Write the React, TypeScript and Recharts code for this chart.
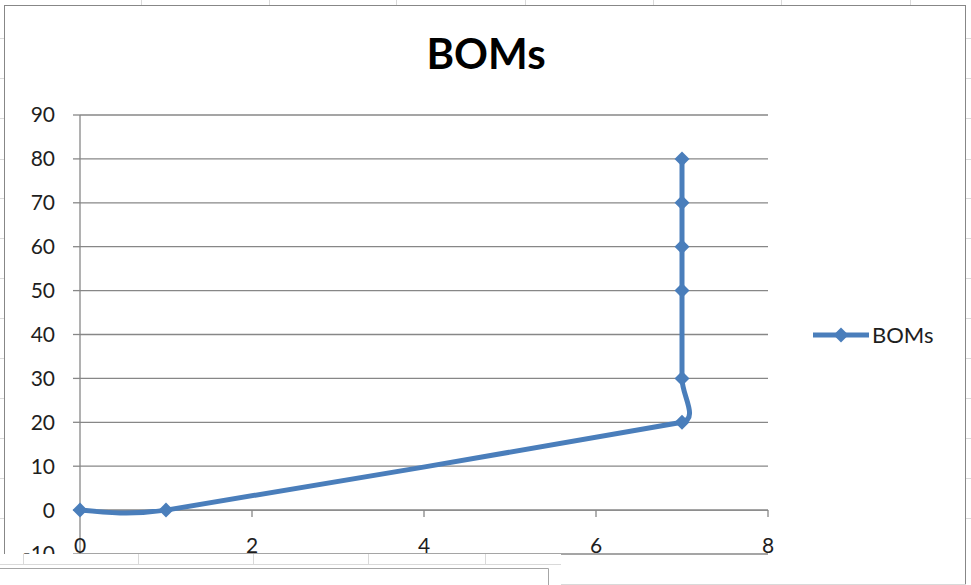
import React from 'react';
import {
  ScatterChart, Scatter, XAxis, YAxis, CartesianGrid, ReferenceLine, Legend,
} from 'recharts';

const seriesName = 'BOMs';
const xValues = [0, 1, 7, 7, 7, 7, 7, 7];
const yValues = [0, 0, 20, 30, 50, 60, 70, 80];
const xTicks = [0, 2, 4, 6, 8];
const yTicks = [-10, 0, 10, 20, 30, 40, 50, 60, 70, 80, 90];

const BLUE = '#4A7EBB';
const GRID = '#878787';
const SHEET = '#d9d9d9';
const TEXT = '#1e1e1e';
const FONT = 'Lato, "Open Sans", sans-serif';

const data = xValues.map((x, i) => ({ x, y: yValues[i] }));

// spreadsheet grid peeking around the chart frame
const sheetCols = [141, 269, 396, 525, 653, 781, 910];
const sheetRows = [38, 78, 118, 159, 198, 238, 278, 318, 358, 398, 438, 478, 518];
const sheetColsBottom = [23, 138, 253, 368, 485];

// Excel-like smoothing: tangent along (next - prev), handle length tied to the shorter neighbour segment
const TENSION = 0.4;
const excelSmooth = (context: any) => {
  let pts: number[][] = [];
  const dist = (a: number[], b: number[]) => Math.hypot(b[0] - a[0], b[1] - a[1]);
  const unit = (a: number[], b: number[]) => {
    const d = dist(a, b) || 1;
    return [(b[0] - a[0]) / d, (b[1] - a[1]) / d];
  };
  return {
    areaStart() {},
    areaEnd() {},
    lineStart() { pts = []; },
    point(x: number, y: number) { pts.push([+x, +y]); },
    lineEnd() {
      const n = pts.length;
      if (!n) return;
      context.moveTo(pts[0][0], pts[0][1]);
      if (n === 1) return;
      const handle = (i: number) => {
        const u = unit(pts[i - 1], pts[i + 1]);
        const len = TENSION * Math.min(dist(pts[i - 1], pts[i]), dist(pts[i], pts[i + 1]));
        return [u[0] * len, u[1] * len];
      };
      for (let i = 0; i < n - 1; i++) {
        const p1 = pts[i];
        const p2 = pts[i + 1];
        let c1: number[] | null = null;
        let c2: number[] | null = null;
        if (i > 0) {
          const h = handle(i);
          c1 = [p1[0] + h[0], p1[1] + h[1]];
        }
        if (i + 1 < n - 1) {
          const h = handle(i + 1);
          c2 = [p2[0] - h[0], p2[1] - h[1]];
        }
        if (!c1 && !c2) {
          c1 = [p1[0] + (p2[0] - p1[0]) / 3, p1[1] + (p2[1] - p1[1]) / 3];
          c2 = [p1[0] + (p2[0] - p1[0]) * 2 / 3, p1[1] + (p2[1] - p1[1]) * 2 / 3];
        } else if (!c1 && c2) {
          c1 = [(p1[0] + c2[0]) / 2, (p1[1] + c2[1]) / 2];
        } else if (c1 && !c2) {
          c2 = [(p2[0] + c1[0]) / 2, (p2[1] + c1[1]) / 2];
        }
        context.bezierCurveTo(c1![0], c1![1], c2![0], c2![1], p2[0], p2[1]);
      }
    },
  };
};

const Diamond = (props: any) => {
  const { cx, cy } = props;
  const r = 7.5;
  return <path d={`M${cx},${cy - r}L${cx + r},${cy}L${cx},${cy + r}L${cx - r},${cy}Z`} fill={BLUE} />;
};

const XTick = (props: any) => {
  const { x, y, payload } = props;
  return (
    <text x={x} y={y - 1} textAnchor="middle" fill={TEXT} fontFamily={FONT} fontSize={21}>
      {payload.value}
    </text>
  );
};

const LegendContent = () => (
  <div style={{ display: 'flex', alignItems: 'center', fontFamily: FONT, fontSize: 22, color: TEXT }}>
    <svg width={57} height={16} style={{ display: 'block' }}>
      <line x1={0} y1={8} x2={56} y2={8} stroke={BLUE} strokeWidth={5} />
      <path d="M28,0.5L35.5,8L28,15.5L20.5,8Z" fill={BLUE} />
    </svg>
    <span style={{ marginLeft: 2 }}>{seriesName}</span>
  </div>
);

export default function App() {
  return (
    <div style={{ position: 'absolute', left: 0, top: 0, width: 971, height: 585, background: '#fff', overflow: 'hidden' }}>
      <ScatterChart width={971} height={585} margin={{ top: 115, right: 203, bottom: 0, left: 0 }}>
        <text x={486} y={69} textAnchor="middle" fontFamily={FONT} fontWeight={700} fontSize={42} fill="#000">
          {seriesName}
        </text>
        <CartesianGrid vertical={false} stroke={GRID} strokeWidth={1.3} />
        <XAxis
          type="number"
          dataKey="x"
          domain={[0, 8]}
          ticks={xTicks}
          axisLine={false}
          tickLine={false}
          tickSize={0}
          tickMargin={0}
          height={31}
          tick={XTick}
        />
        <YAxis
          type="number"
          dataKey="y"
          domain={[-10, 90]}
          ticks={yTicks}
          width={80}
          axisLine={{ stroke: GRID, strokeWidth: 1.3 }}
          tickLine={{ stroke: GRID, strokeWidth: 1.3 }}
          tickSize={7}
          tickMargin={18}
          tick={{ fill: TEXT, fontFamily: FONT, fontSize: 21 }}
        />
        <ReferenceLine y={0} stroke={GRID} strokeWidth={1.3} />
        {xTicks.slice(1).map((t) => (
          <ReferenceLine key={t} segment={[{ x: t, y: 0 }, { x: t, y: -1.6 }]} stroke={GRID} strokeWidth={1.3} />
        ))}
        <Legend
          layout="vertical"
          align="center"
          verticalAlign="middle"
          wrapperStyle={{ left: 813, top: 321, width: 'auto' }}
          content={LegendContent}
        />
        <Scatter
          name={seriesName}
          data={data}
          fill={BLUE}
          line={{ stroke: BLUE, strokeWidth: 5 }}
          lineType="joint"
          lineJointType={excelSmooth as any}
          shape={Diamond}
          isAnimationActive={false}
        />
      </ScatterChart>
      <svg
        width={971}
        height={585}
        style={{ position: 'absolute', left: 0, top: 0, pointerEvents: 'none' }}
      >
        {sheetCols.map((c) => (
          <line key={`t${c}`} x1={c + 0.5} y1={0} x2={c + 0.5} y2={5} stroke={SHEET} />
        ))}
        {sheetRows.map((r) => (
          <g key={`r${r}`}>
            <line x1={0} y1={r + 0.5} x2={4} y2={r + 0.5} stroke={SHEET} />
            <line x1={966} y1={r + 0.5} x2={971} y2={r + 0.5} stroke={SHEET} />
          </g>
        ))}
        <rect x={4.5} y={5.5} width={961} height={600} fill="none" stroke={GRID} />
        <rect x={0} y={554} width={561} height={31} fill="#fff" />
        <line x1={0} y1={564.5} x2={561} y2={564.5} stroke={SHEET} />
        {sheetColsBottom.map((c) => (
          <line key={`b${c}`} x1={c + 0.5} y1={554} x2={c + 0.5} y2={564} stroke={SHEET} />
        ))}
        <polyline points="0,568.5 548.5,568.5 548.5,585" fill="none" stroke="#a6a6a6" />
        <line x1={561} y1={584.5} x2={966} y2={584.5} stroke={SHEET} />
      </svg>
    </div>
  );
}
